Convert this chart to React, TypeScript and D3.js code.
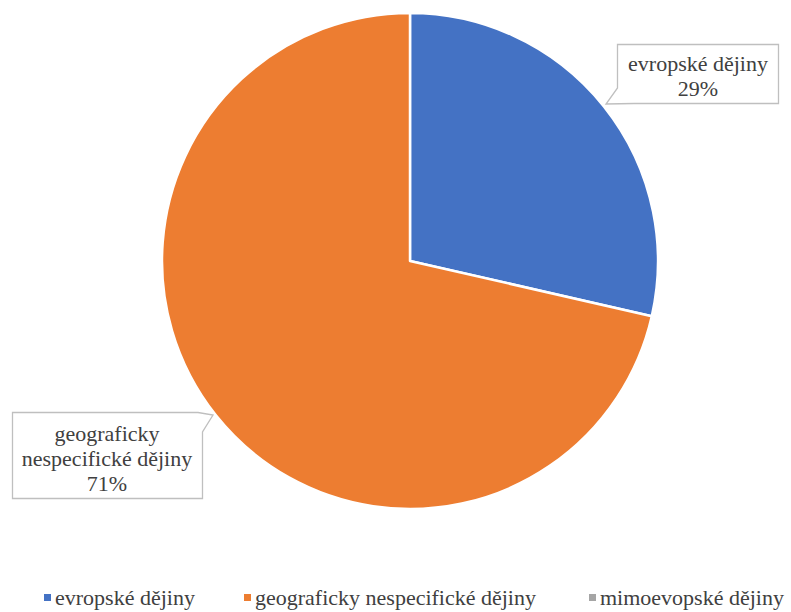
import * as d3 from "d3";

type Slice = { name: string; value: number; color: string };

const categories = ["evropské dějiny", "geograficky nespecifické dějiny", "mimoevopské dějiny"];
const counts = [2, 5, 0];
const colors = ["#4472C4", "#ED7D31", "#A5A5A5"];

const W = 791;
const H = 612;
const cx = 410;
const cy = 261;
const radius = 248;
const font = "Liberation Serif, DejaVu Serif, Times New Roman, serif";
const fs = 22;

const data: Slice[] = categories.map((name, i) => ({ name, value: counts[i], color: colors[i] }));

const App = () => {
  const pie = d3.pie<Slice>().value((d) => d.value).sort(null);
  const arcs = pie(data);
  const arcGen = d3.arc<d3.PieArcDatum<Slice>>().innerRadius(0).outerRadius(radius);
  const total = d3.sum(counts);
  const pct = (v: number) => `${Math.round((v / total) * 100)}%`;

  // legend positions (marker x)
  const legendX = [44, 244, 589];
  const txt = { fontFamily: font, fontSize: fs, fill: "#404040" };

  return (
    <svg width={W} height={H} style={{ position: "absolute", left: 0, top: 0, background: "#fff" }}>
      <g transform={`translate(${cx},${cy})`}>
        {arcs
          .filter((a) => a.value > 0)
          .map((a, i) => (
            <path key={i} d={arcGen(a)!} fill={a.data.color} stroke="#fff" strokeWidth={2.5} strokeLinejoin="round" />
          ))}
      </g>

      {/* callout for evropské dějiny */}
      <path
        d="M617.5,44.5 H778.5 V103.5 H634 L606,104 L617.5,88 Z"
        fill="#fff"
        stroke="#BFBFBF"
        strokeWidth={1.3}
      />
      <text x={698} y={71} textAnchor="middle" style={txt}>
        {categories[0]}
      </text>
      <text x={698} y={96} textAnchor="middle" style={txt}>
        {pct(counts[0])}
      </text>

      {/* callout for geograficky nespecifické dějiny */}
      <path
        d="M12.5,412.5 H198 L213,415 L202.5,432 V498.5 H12.5 Z"
        fill="#fff"
        stroke="#BFBFBF"
        strokeWidth={1.3}
      />
      <text x={107} y={441} textAnchor="middle" style={txt}>
        geograficky
      </text>
      <text x={107} y={466} textAnchor="middle" style={txt}>
        nespecifické dějiny
      </text>
      <text x={107} y={491} textAnchor="middle" style={txt}>
        {pct(counts[1])}
      </text>

      {/* legend */}
      {categories.map((c, i) => (
        <g key={c}>
          <rect x={legendX[i]} y={594} width={7} height={7} fill={colors[i]} />
          <text x={legendX[i] + 11} y={605} style={txt}>
            {c}
          </text>
        </g>
      ))}
    </svg>
  );
};

export default App;
